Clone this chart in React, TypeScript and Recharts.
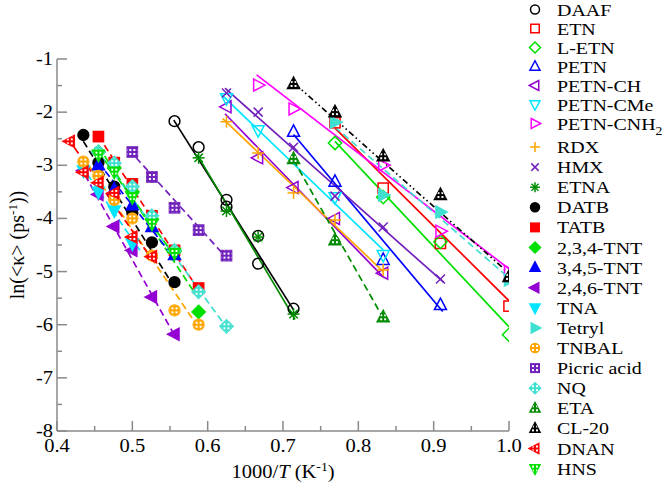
import React from 'react';
import { ScatterChart, Scatter, XAxis, YAxis } from 'recharts';

type Pt = [number, number];

// 1000/T values (K^-1) and ln<k> values
const daafPts: Pt[] = [[0.556, -2.17], [0.588, -2.66], [0.625, -3.65], [0.625, -3.78], [0.667, -4.33], [0.667, -4.85], [0.714, -5.7]];
const daafFit: Pt[] = [[0.555, -2.15], [0.714, -5.72]];
const etnPts: Pt[] = [[0.769, -2.2], [0.833, -3.43], [0.909, -4.47], [1.0, -5.65]];
const etnFit: Pt[] = [[0.769, -2.3], [1.0, -5.55]];
const letnPts: Pt[] = [[0.769, -2.58], [0.833, -3.6], [0.909, -4.44], [1.0, -6.19]];
const letnFit: Pt[] = [[0.769, -2.55], [1.0, -6.04]];
const petnPts: Pt[] = [[0.714, -2.37], [0.769, -3.31], [0.833, -4.78], [0.909, -5.63]];
const petnFit: Pt[] = [[0.714, -2.42], [0.912, -5.75]];
const petnChPts: Pt[] = [[0.625, -1.9], [0.667, -2.86], [0.714, -3.42], [0.769, -4.0], [0.833, -5.03]];
const petnChFit: Pt[] = [[0.623, -2.03], [0.833, -5.1]];
const petnCmePts: Pt[] = [[0.625, -1.74], [0.667, -2.34], [0.769, -3.6], [0.833, -4.69]];
const petnCmeFit: Pt[] = [[0.619, -1.68], [0.833, -4.59]];
const petnCnhPts: Pt[] = [[0.667, -1.49], [0.714, -1.94], [0.833, -3.0], [0.909, -4.24], [1.0, -5.0]];
const petnCnhFit: Pt[] = [[0.665, -1.3], [1.0, -4.95]];
const rdxPts: Pt[] = [[0.625, -2.18], [0.667, -2.77], [0.714, -3.52], [0.769, -4.03], [0.833, -4.97]];
const rdxFit: Pt[] = [[0.62, -2.12], [0.833, -5.0]];
const hmxPts: Pt[] = [[0.625, -1.64], [0.667, -2.0], [0.714, -2.66], [0.769, -3.58], [0.833, -4.16], [0.909, -5.14]];
const hmxFit: Pt[] = [[0.623, -1.55], [0.913, -5.2]];
const etnaPts: Pt[] = [[0.588, -2.86], [0.625, -3.86], [0.667, -4.35], [0.714, -5.8]];
const etnaFit: Pt[] = [[0.586, -2.8], [0.716, -5.9]];
const datbPts: Pt[] = [[0.435, -2.43], [0.455, -2.95], [0.476, -3.4], [0.5, -3.9], [0.526, -4.45], [0.556, -5.2]];
const datbFit: Pt[] = [[0.435, -2.55], [0.556, -5.3]];
const tatbPts: Pt[] = [[0.455, -2.46], [0.476, -2.95], [0.5, -3.35], [0.526, -3.95], [0.556, -4.6], [0.588, -5.31]];
const tatbFit: Pt[] = [[0.455, -2.45], [0.588, -5.35]];
const tnt234Pts: Pt[] = [[0.455, -2.75], [0.476, -3.05], [0.5, -3.5], [0.526, -4.02], [0.556, -4.62], [0.588, -5.76]];
const tnt234Fit: Pt[] = [[0.455, -2.65], [0.585, -5.45]];
const tnt345Pts: Pt[] = [[0.455, -3.0], [0.476, -3.45], [0.5, -3.75], [0.526, -4.16], [0.556, -4.69]];
const tnt345Fit: Pt[] = [[0.455, -2.95], [0.556, -4.75]];
const tnt246Pts: Pt[] = [[0.435, -3.1], [0.455, -3.55], [0.476, -4.15], [0.5, -4.6], [0.526, -5.48], [0.556, -6.18]];
const tnt246Fit: Pt[] = [[0.43, -3.0], [0.556, -6.2]];
const tnaPts: Pt[] = [[0.435, -3.1], [0.455, -3.5], [0.476, -3.85], [0.5, -4.47]];
const tnaFit: Pt[] = [[0.432, -3.0], [0.51, -4.6]];
const tetrylPts: Pt[] = [[0.769, -2.19], [0.833, -3.56], [0.909, -3.88], [1.0, -5.16]];
const tetrylFit: Pt[] = [[0.769, -2.28], [1.0, -5.12]];
const tnbalPts: Pt[] = [[0.435, -2.93], [0.455, -3.2], [0.476, -3.65], [0.5, -4.0], [0.526, -4.7], [0.556, -5.73], [0.588, -6.0]];
const tnbalFit: Pt[] = [[0.435, -2.85], [0.59, -6.1]];
const picricPts: Pt[] = [[0.5, -2.75], [0.526, -3.22], [0.556, -3.8], [0.588, -4.22], [0.625, -4.7]];
const picricFit: Pt[] = [[0.495, -2.7], [0.63, -4.82]];
const nqPts: Pt[] = [[0.455, -2.75], [0.476, -2.96], [0.5, -3.4], [0.526, -3.95], [0.556, -4.6], [0.588, -5.38], [0.625, -6.03]];
const nqFit: Pt[] = [[0.45, -2.65], [0.625, -6.05]];
const etaPts: Pt[] = [[0.714, -2.88], [0.769, -4.41], [0.833, -5.86]];
const etaFit: Pt[] = [[0.714, -2.9], [0.83, -5.8]];
const cl20Pts: Pt[] = [[0.714, -1.47], [0.769, -2.0], [0.833, -2.83], [0.909, -3.56], [1.0, -5.1]];
const cl20Fit: Pt[] = [[0.716, -1.47], [1.0, -5.03]];
const dnanPts: Pt[] = [[0.417, -2.55], [0.435, -3.13], [0.455, -3.33], [0.476, -3.52], [0.5, -4.35], [0.526, -4.72]];
const dnanFit: Pt[] = [[0.415, -2.5], [0.53, -4.85]];
const hnsPts: Pt[] = [[0.455, -2.8], [0.476, -3.12], [0.5, -3.6], [0.526, -4.1], [0.556, -4.65]];
const hnsFit: Pt[] = [[0.455, -2.75], [0.556, -4.7]];

const xTicks = [0.4, 0.45, 0.5, 0.55, 0.6, 0.65, 0.7, 0.75, 0.8, 0.85, 0.9, 0.95, 1.0];
const yTicks = [-8, -7.5, -7, -6.5, -6, -5.5, -5, -4.5, -4, -3.5, -3, -2.5, -2, -1.5, -1];

type Kind = 'circle' | 'square' | 'diamond' | 'up' | 'down' | 'left' | 'right' | 'plus' | 'cross' | 'star';
type Mode = 'open' | 'filled' | 'pattern';

const SOLID = undefined;
const DASH = '7 4';
const DASHDOT = '6 3 1.5 3 1.5 3';

const series: { name: string; sub?: string; color: string; kind: Kind; mode: Mode; dash?: string; pts: Pt[]; fit: Pt[] }[] = [
  { name: 'DAAF', color: '#000000', kind: 'circle', mode: 'open', dash: SOLID, pts: daafPts, fit: daafFit },
  { name: 'ETN', color: '#ff0000', kind: 'square', mode: 'open', dash: SOLID, pts: etnPts, fit: etnFit },
  { name: 'L-ETN', color: '#00e000', kind: 'diamond', mode: 'open', dash: SOLID, pts: letnPts, fit: letnFit },
  { name: 'PETN', color: '#0000ff', kind: 'up', mode: 'open', dash: SOLID, pts: petnPts, fit: petnFit },
  { name: 'PETN-CH', color: '#9400d3', kind: 'left', mode: 'open', dash: SOLID, pts: petnChPts, fit: petnChFit },
  { name: 'PETN-CMe', color: '#00e5ff', kind: 'down', mode: 'open', dash: SOLID, pts: petnCmePts, fit: petnCmeFit },
  { name: 'PETN-CNH', sub: '2', color: '#ff00ff', kind: 'right', mode: 'open', dash: SOLID, pts: petnCnhPts, fit: petnCnhFit },
  { name: 'RDX', color: '#ffa500', kind: 'plus', mode: 'open', dash: SOLID, pts: rdxPts, fit: rdxFit },
  { name: 'HMX', color: '#7221bc', kind: 'cross', mode: 'open', dash: SOLID, pts: hmxPts, fit: hmxFit },
  { name: 'ETNA', color: '#008b00', kind: 'star', mode: 'open', dash: SOLID, pts: etnaPts, fit: etnaFit },
  { name: 'DATB', color: '#000000', kind: 'circle', mode: 'filled', dash: DASH, pts: datbPts, fit: datbFit },
  { name: 'TATB', color: '#ff0000', kind: 'square', mode: 'filled', dash: DASH, pts: tatbPts, fit: tatbFit },
  { name: '2,3,4-TNT', color: '#00e000', kind: 'diamond', mode: 'filled', dash: DASH, pts: tnt234Pts, fit: tnt234Fit },
  { name: '3,4,5-TNT', color: '#0000ff', kind: 'up', mode: 'filled', dash: DASH, pts: tnt345Pts, fit: tnt345Fit },
  { name: '2,4,6-TNT', color: '#9400d3', kind: 'left', mode: 'filled', dash: DASH, pts: tnt246Pts, fit: tnt246Fit },
  { name: 'TNA', color: '#00e5ff', kind: 'down', mode: 'filled', dash: DASH, pts: tnaPts, fit: tnaFit },
  { name: 'Tetryl', color: '#40e0d0', kind: 'right', mode: 'filled', dash: DASH, pts: tetrylPts, fit: tetrylFit },
  { name: 'TNBAL', color: '#ffa500', kind: 'circle', mode: 'pattern', dash: DASH, pts: tnbalPts, fit: tnbalFit },
  { name: 'Picric acid', color: '#7221bc', kind: 'square', mode: 'pattern', dash: DASH, pts: picricPts, fit: picricFit },
  { name: 'NQ', color: '#40e0d0', kind: 'diamond', mode: 'pattern', dash: DASH, pts: nqPts, fit: nqFit },
  { name: 'ETA', color: '#008b00', kind: 'up', mode: 'pattern', dash: DASH, pts: etaPts, fit: etaFit },
  { name: 'CL-20', color: '#000000', kind: 'up', mode: 'pattern', dash: DASHDOT, pts: cl20Pts, fit: cl20Fit },
  { name: 'DNAN', color: '#ff0000', kind: 'left', mode: 'pattern', dash: DASH, pts: dnanPts, fit: dnanFit },
  { name: 'HNS', color: '#00e000', kind: 'down', mode: 'pattern', dash: DASH, pts: hnsPts, fit: hnsFit },
];

const FONT = 'Liberation Serif, Times New Roman, serif';
const AXIS = '#8a8a8a';
const STRETCH = 1.14;

function tri(kind: Kind, r: number): string {
  const a = r * 1.15;
  const b = r * 0.75;
  const pts: Pt[] =
    kind === 'up' ? [[0, -a], [r, b], [-r, b]] :
    kind === 'down' ? [[0, a], [r, -b], [-r, -b]] :
    kind === 'left' ? [[-a, 0], [b, -r], [b, r]] :
    [[a, 0], [-b, -r], [-b, r]];
  return pts.map(([px, py]) => `${px},${py}`).join(' ');
}

function Marker({ cx, cy, kind, color, mode, r = 6 }: { cx: number; cy: number; kind: Kind; color: string; mode: Mode; r?: number }) {
  const sw = 1.5;
  const body = (fill: string, stroke: string) => {
    switch (kind) {
      case 'circle':
        return <circle cx={0} cy={0} r={r * 0.9} fill={fill} stroke={stroke} strokeWidth={sw} />;
      case 'square':
        return <rect x={-r * 0.85} y={-r * 0.85} width={r * 1.7} height={r * 1.7} fill={fill} stroke={stroke} strokeWidth={sw} />;
      case 'diamond':
        return <polygon points={`0,${-r * 1.1} ${r * 1.1},0 0,${r * 1.1} ${-r * 1.1},0`} fill={fill} stroke={stroke} strokeWidth={sw} />;
      case 'plus':
        return (
          <g stroke={color} strokeWidth={sw}>
            <line x1={-r} y1={0} x2={r} y2={0} />
            <line x1={0} y1={-r} x2={0} y2={r} />
          </g>
        );
      case 'cross':
        return (
          <g stroke={color} strokeWidth={sw}>
            <line x1={-r * 0.75} y1={-r * 0.75} x2={r * 0.75} y2={r * 0.75} />
            <line x1={-r * 0.75} y1={r * 0.75} x2={r * 0.75} y2={-r * 0.75} />
          </g>
        );
      case 'star':
        return (
          <g stroke={color} strokeWidth={sw}>
            <line x1={-r} y1={0} x2={r} y2={0} />
            <line x1={0} y1={-r} x2={0} y2={r} />
            <line x1={-r * 0.7} y1={-r * 0.7} x2={r * 0.7} y2={r * 0.7} />
            <line x1={-r * 0.7} y1={r * 0.7} x2={r * 0.7} y2={-r * 0.7} />
          </g>
        );
      default:
        return <polygon points={tri(kind, r)} fill={fill} stroke={stroke} strokeWidth={sw} strokeLinejoin="miter" />;
    }
  };
  return (
    <g transform={`translate(${cx},${cy})`}>
      {body(mode === 'open' ? 'none' : color, color)}
      {mode === 'pattern' && body('url(#symPattern)', 'none')}
    </g>
  );
}

function SText({ x, y, size, anchor, children }: { x: number; y: number; size: number; anchor?: string; children: React.ReactNode }) {
  return (
    <g transform={`translate(${x},${y}) scale(${STRETCH},1)`}>
      <text x={0} y={0} style={{ fontFamily: FONT }} fontSize={size} fill="#000" textAnchor={anchor || 'start'}>
        {children}
      </text>
    </g>
  );
}

const isMajor = (v: number, step: number) => Math.abs(v / step - Math.round(v / step)) < 1e-6;

const XTickBottom = (props: any) => {
  const { x, y, payload } = props;
  const major = isMajor(payload.value, 0.1);
  return (
    <g>
      <line x1={x} x2={x} y1={y} y2={y - (major ? 10 : 5)} stroke={AXIS} strokeWidth={1.5} />
      {major && <SText x={x} y={y + 21} size={18} anchor="middle">{payload.value.toFixed(1)}</SText>}
    </g>
  );
};

const XTickTop = (props: any) => {
  const { x, y, payload } = props;
  const major = isMajor(payload.value, 0.1);
  return <line x1={x} x2={x} y1={y} y2={y + (major ? 10 : 5)} stroke={AXIS} strokeWidth={1.5} />;
};

const YTickLeft = (props: any) => {
  const { x, y, payload } = props;
  const major = isMajor(payload.value, 1);
  return (
    <g>
      <line x1={x} x2={x + (major ? 10 : 5)} y1={y} y2={y} stroke={AXIS} strokeWidth={1.5} />
      {major && <SText x={x - 4} y={y + 6} size={18} anchor="end">{String(payload.value)}</SText>}
    </g>
  );
};

const YTickRight = (props: any) => {
  const { x, y, payload } = props;
  const major = isMajor(payload.value, 1);
  return <line x1={x} x2={x - (major ? 10 : 5)} y1={y} y2={y} stroke={AXIS} strokeWidth={1.5} />;
};

const XTitle = (props: any) => {
  const vb = props.viewBox || { x: 57, y: 431, width: 452, height: 50 };
  return (
    <SText x={vb.x + vb.width / 2} y={vb.y + 47} size={18} anchor="middle">
      <tspan>1000/</tspan>
      <tspan fontStyle="italic">T</tspan>
      <tspan> (K</tspan>
      <tspan dy={-7} fontSize={12}>-1</tspan>
      <tspan dy={7}>)</tspan>
    </SText>
  );
};

const YTitle = (props: any) => {
  const vb = props.viewBox || { x: 7, y: 59, width: 50, height: 372 };
  const cy = vb.y + vb.height / 2;
  return (
    <text transform={`translate(${vb.x + 17},${cy}) rotate(-90)`} style={{ fontFamily: FONT }} fontSize={20} textAnchor="middle" fill="#000">
      <tspan>{'ln(<\u03ba> (ps'}</tspan>
      <tspan dy={-7} fontSize={13}>-1</tspan>
      <tspan dy={7}>))</tspan>
    </text>
  );
};

// legend rows: a little extra room after the subscripted entry
const legendRowY = (i: number) => (i < 7 ? 9.5 + i * 19 : 147 + (i - 7) * 20.1);

function LegendPanel() {
  return (
    <svg width={664} height={485} style={{ position: 'absolute', left: 0, top: 0, pointerEvents: 'none' }}>
      {series.map((s, i) => {
        const cy = legendRowY(i);
        return (
          <g key={s.name}>
            <Marker cx={535} cy={cy} kind={s.kind} color={s.color} mode={s.mode} r={5} />
            <SText x={557} y={cy + 6} size={17.5}>
              <tspan>{s.name}</tspan>
              {s.sub && <tspan dy={5} fontSize={12}>{s.sub}</tspan>}
            </SText>
          </g>
        );
      })}
    </svg>
  );
}

export default function App() {
  const toXY = (pts: Pt[]) => pts.map(([x, y]) => ({ x, y }));
  return (
    <div style={{ position: 'absolute', left: 0, top: 0, width: 664, height: 485, background: '#fff' }}>
      <svg width={0} height={0} style={{ position: 'absolute' }}>
        <defs>
          <pattern id="symPattern" width={4} height={4} patternUnits="userSpaceOnUse">
            <rect x={1} y={1} width={2} height={2} fill="#ffffff" />
          </pattern>
        </defs>
      </svg>
      <ScatterChart width={664} height={485} margin={{ top: 59, right: 155, bottom: 4, left: 7 }}>
        <XAxis
          type="number"
          dataKey="x"
          domain={[0.4, 1.0]}
          ticks={xTicks}
          interval={0}
          allowDataOverflow
          height={50}
          tickSize={0}
          tickMargin={0}
          tickLine={false}
          tick={<XTickBottom />}
          axisLine={{ stroke: AXIS, strokeWidth: 1.5 }}
          label={<XTitle />}
        />
        <XAxis
          xAxisId="top"
          orientation="top"
          type="number"
          domain={[0.4, 1.0]}
          ticks={xTicks}
          interval={0}
          allowDataOverflow
          height={0}
          tickSize={0}
          tickMargin={0}
          tickLine={false}
          tick={<XTickTop />}
          axisLine={{ stroke: AXIS, strokeWidth: 1.5 }}
        />
        <YAxis
          type="number"
          dataKey="y"
          domain={[-8, -1]}
          ticks={yTicks}
          interval={0}
          allowDataOverflow
          width={50}
          tickSize={0}
          tickMargin={0}
          tickLine={false}
          tick={<YTickLeft />}
          axisLine={{ stroke: AXIS, strokeWidth: 1.5 }}
          label={<YTitle />}
        />
        <YAxis
          yAxisId="right"
          orientation="right"
          type="number"
          domain={[-8, -1]}
          ticks={yTicks}
          interval={0}
          allowDataOverflow
          width={0}
          tickSize={0}
          tickMargin={0}
          tickLine={false}
          tick={<YTickRight />}
          axisLine={{ stroke: AXIS, strokeWidth: 1.5 }}
        />
        {series.map((s) => (
          <Scatter
            key={s.name + '-fit'}
            data={toXY(s.fit)}
            line={{ stroke: s.color, strokeWidth: 1.7, strokeDasharray: s.dash }}
            shape={() => <g />}
            isAnimationActive={false}
          />
        ))}
        {series.map((s) => (
          <Scatter
            key={s.name}
            name={s.name}
            data={toXY(s.pts)}
            shape={(p: any) => <Marker cx={p.cx} cy={p.cy} kind={s.kind} color={s.color} mode={s.mode} />}
            isAnimationActive={false}
          />
        ))}
      </ScatterChart>
      <LegendPanel />
    </div>
  );
}
